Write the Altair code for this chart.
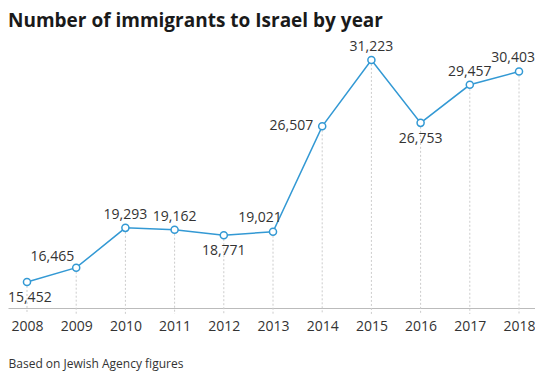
import altair as alt
import pandas as pd

years = [2008, 2009, 2010, 2011, 2012, 2013, 2014, 2015, 2016, 2017, 2018]
immigrants = [15452, 16465, 19293, 19162, 18771, 19021, 26507, 31223, 26753, 29457, 30403]
labels = ["15,452", "16,465", "19,293", "19,162", "18,771", "19,021",
          "26,507", "31,223", "26,753", "29,457", "30,403"]

above_years = [2010, 2011, 2015, 2017]
below_years = [2012, 2016]
first_years = [2008]
last_years = [2018]
left_years = [2014]
aboveleft_a = [2009]
aboveleft_b = [2013]

df = pd.DataFrame({"year": years, "value": immigrants, "label": labels})

FONT = "Open Sans"
BLUE = "#3399d4"
TXT = "#333333"

W, H = 527, 259
YMIN, YMAX = 13600, 32000

xs = alt.X("year:Q", scale=alt.Scale(domain=[2007.614, 2018.325], nice=False, zero=False),
           axis=alt.Axis(values=years, format="d", grid=False, ticks=False,
                         domainColor="#bbbbbb", domainWidth=1,
                         labelFont=FONT, labelFontSize=14, labelColor=TXT,
                         labelPadding=11, labelBaseline="top",
                         title="Based on Jewish Agency figures",
                         titleFont=FONT, titleFontSize=12, titleFontWeight="normal",
                         titleColor=TXT, titleAnchor="start", titleAlign="left",
                         titleBaseline="alphabetic", titleX=0, titleY=59))
ys = alt.Y("value:Q", scale=alt.Scale(domain=[YMIN, YMAX], nice=False, zero=False),
           axis=None)

base = alt.Chart(df)

rules = base.mark_rule(color="#cccccc", strokeDash=[2, 2], strokeWidth=1,
                       y2Offset=6).encode(
    x=xs, y=ys, y2=alt.datum(YMIN))

line = base.mark_line(color=BLUE, strokeWidth=1.5).encode(x=xs, y=ys)
pts = base.mark_point(shape="circle", filled=True, fill="white", stroke=BLUE,
                      strokeWidth=1.5, size=50, opacity=1).encode(x=xs, y=ys)

def txt(sel, **kw):
    return base.transform_filter(
        alt.FieldOneOfPredicate(field="year", oneOf=sel)
    ).mark_text(font=FONT, fontSize=14, color=TXT, **kw).encode(
        x=xs, y=ys, text="label:N")

t_above = txt(above_years, align="center", baseline="alphabetic", dy=-9)
t_below = txt(below_years, align="center", baseline="alphabetic", dy=20)
t_first = txt(first_years, align="left", baseline="alphabetic", dx=-19, dy=20)
t_last = txt(last_years, align="right", baseline="alphabetic", dx=16, dy=-9)
t_left = txt(left_years, align="right", baseline="middle", dx=-9)
t_al_a = txt(aboveleft_a, align="right", baseline="alphabetic", dx=-2, dy=-7)
t_al_b = txt(aboveleft_b, align="center", baseline="alphabetic", dx=-13, dy=-10)

chart = alt.layer(rules, line, pts, t_above, t_below, t_first, t_last, t_left,
                  t_al_a, t_al_b).properties(
    width=W, height=H,
    title=alt.TitleParams("Number of immigrants to Israel by year", anchor="start",
                          frame="group", font=FONT, fontSize=19, fontWeight="bold",
                          color="#1a1a1a", baseline="alphabetic", offset=-6),
    autosize=alt.AutoSizeParams(type="none"),
    padding={"left": 0, "top": 41, "right": 0, "bottom": 64},
).configure_view(stroke=None)

chart.save("out.html", embed_options={"renderer": "svg", "actions": False})
